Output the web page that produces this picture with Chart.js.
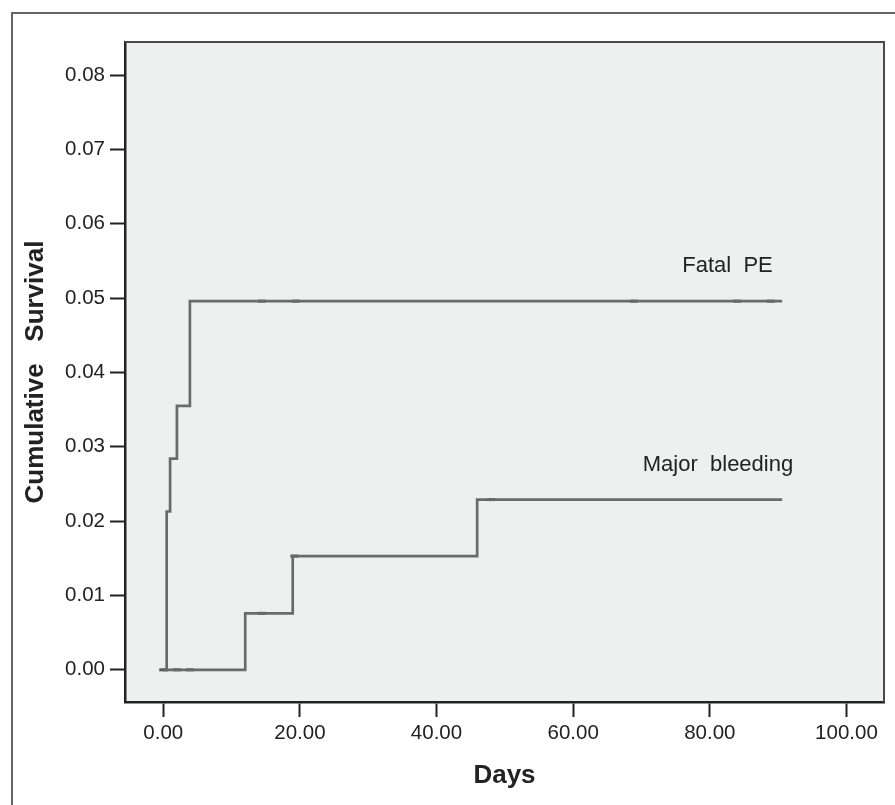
<!DOCTYPE html>
<html>
<head>
<meta charset="utf-8">
<script src="https://cdn.jsdelivr.net/npm/chart.js@4.4.1/dist/chart.umd.min.js"></script>
<style>
    html, body { margin: 0; padding: 0; background: #fff; }
    canvas { display: block; }
</style>
</head>
<body>
<canvas id="km" width="895" height="805"></canvas>
<script>
    'use strict';

    // Kaplan-Meier style step curves (days, cumulative proportion)
    var fatalDays = [0, 0.5, 1.0, 2.0, 3.9, 90.6];
    var fatalRisk = [0, 0.0213, 0.0284, 0.0355, 0.0496, 0.0496];
    var bleedDays = [0, 12.0, 18.95, 45.95, 90.6];
    var bleedRisk = [0, 0.0076, 0.0153, 0.0229, 0.0229];

    // censor marks
    var fatalCensorDays = [14.4, 19.4, 68.9, 84, 88.9];
    var fatalCensorRisk = [0.0496, 0.0496, 0.0496, 0.0496, 0.0496];
    var bleedCensorDays = [0, 2.0, 3.9, 14.4, 19.2, 48];
    var bleedCensorRisk = [0, 0, 0, 0.0076, 0.0153, 0.0229];

    var xTicks = [0, 20, 40, 60, 80, 100];
    var yTicks = [0, 0.01, 0.02, 0.03, 0.04, 0.05, 0.06, 0.07, 0.08];

    var curveNames = ['Fatal  PE', 'Major  bleeding'];
    var curveLabelX = [82.6, 81.2];
    var curveLabelY = [0.0544, 0.0275];

    var FONT = "'Liberation Sans', Arial, Helvetica, sans-serif";
    var lineColor = '#6a6a6a';
    var inkColor = '#222';

    function toPoints(xs, ys) {
        return xs.map(function (x, i) { return { x: x, y: ys[i] }; });
    }

    function fixTicks(list) {
        return function (scale) {
            scale.ticks = list.map(function (v) { return { value: v }; });
        };
    }

    var framePlugin = {
        id: 'frame',
        beforeDraw: function (chart) {
            var ctx = chart.ctx, a = chart.chartArea;
            ctx.save();
            ctx.fillStyle = '#fff';
            ctx.fillRect(0, 0, chart.width, chart.height);
            ctx.fillStyle = '#eef0ef';
            ctx.fillRect(a.left, a.top, a.right - a.left, a.bottom - a.top);
            ctx.restore();
        },
        afterDraw: function (chart) {
            var ctx = chart.ctx, a = chart.chartArea;
            ctx.save();
            // outer figure frame (left + top only visible)
            ctx.strokeStyle = '#666';
            ctx.lineWidth = 2;
            ctx.beginPath();
            ctx.moveTo(12, chart.height);
            ctx.lineTo(12, 13);
            ctx.lineTo(chart.width, 13);
            ctx.stroke();
            // top and right edges of the plot box
            ctx.strokeStyle = '#4a4a4a';
            ctx.beginPath();
            ctx.moveTo(a.left, a.top);
            ctx.lineTo(a.right, a.top);
            ctx.lineTo(a.right, a.bottom);
            ctx.stroke();
            // curve names
            var xs = chart.scales.x, ys = chart.scales.y;
            ctx.fillStyle = inkColor;
            ctx.font = '22px ' + FONT;
            ctx.textAlign = 'center';
            ctx.textBaseline = 'middle';
            curveNames.forEach(function (name, i) {
                ctx.fillText(name, xs.getPixelForValue(curveLabelX[i]), ys.getPixelForValue(curveLabelY[i]));
            });
            ctx.restore();
        }
    };

    var censorStyle = {
        type: 'line',
        showLine: false,
        pointStyle: 'line',
        pointRadius: 4,
        pointBorderWidth: 3,
        pointBorderColor: '#555',
        pointBackgroundColor: '#555'
    };

    new Chart(document.getElementById('km').getContext('2d'), {
        type: 'line',
        data: {
            datasets: [
                {
                    label: 'Fatal PE',
                    data: toPoints(fatalDays, fatalRisk),
                    stepped: 'before',
                    borderColor: lineColor,
                    borderWidth: 2.7,
                    pointRadius: 0,
                    fill: false
                },
                {
                    label: 'Major bleeding',
                    data: toPoints(bleedDays, bleedRisk),
                    stepped: 'before',
                    borderColor: lineColor,
                    borderWidth: 2.7,
                    pointRadius: 0,
                    fill: false
                },
                Object.assign({ label: 'Fatal PE censored', data: toPoints(fatalCensorDays, fatalCensorRisk) }, censorStyle),
                Object.assign({ label: 'Major bleeding censored', data: toPoints(bleedCensorDays, bleedCensorRisk) }, censorStyle)
            ]
        },
        options: {
            responsive: false,
            animation: false,
            events: [],
            layout: { padding: { top: 42, right: 11, left: 0, bottom: 0 } },
            plugins: {
                legend: { display: false },
                tooltip: { enabled: false }
            },
            scales: {
                x: {
                    type: 'linear',
                    min: -5.6,
                    max: 105.5,
                    afterBuildTicks: fixTicks(xTicks),
                    afterFit: function (scale) { scale.height = 103; },
                    grid: {
                        drawOnChartArea: false,
                        drawTicks: true,
                        tickLength: 15,
                        tickWidth: 2,
                        tickColor: inkColor
                    },
                    border: { display: true, color: inkColor, width: 2.5 },
                    ticks: {
                        padding: 4,
                        maxRotation: 0,
                        autoSkip: false,
                        color: inkColor,
                        font: { family: FONT, size: 20.5 },
                        callback: function (v) { return Number(v).toFixed(2); }
                    },
                    title: {
                        display: true,
                        text: 'Days',
                        color: inkColor,
                        font: { family: FONT, size: 26, weight: 'bold' },
                        padding: { top: 0, bottom: 14 }
                    }
                },
                y: {
                    type: 'linear',
                    min: -0.00433,
                    max: 0.08446,
                    afterBuildTicks: fixTicks(yTicks),
                    afterFit: function (scale) { scale.width = 125; },
                    grid: {
                        drawOnChartArea: false,
                        drawTicks: true,
                        tickLength: 15,
                        tickWidth: 2,
                        tickColor: inkColor
                    },
                    border: { display: true, color: inkColor, width: 2.5 },
                    ticks: {
                        padding: 5,
                        autoSkip: false,
                        color: inkColor,
                        font: { family: FONT, size: 20.5 },
                        callback: function (v) { return Number(v).toFixed(2); }
                    },
                    title: {
                        display: true,
                        text: 'Cumulative   Survival',
                        color: inkColor,
                        font: { family: FONT, size: 26, weight: 'bold' },
                        padding: { top: 20, bottom: 0 }
                    }
                }
            }
        },
        plugins: [framePlugin]
    });
</script>
</body>
</html>
